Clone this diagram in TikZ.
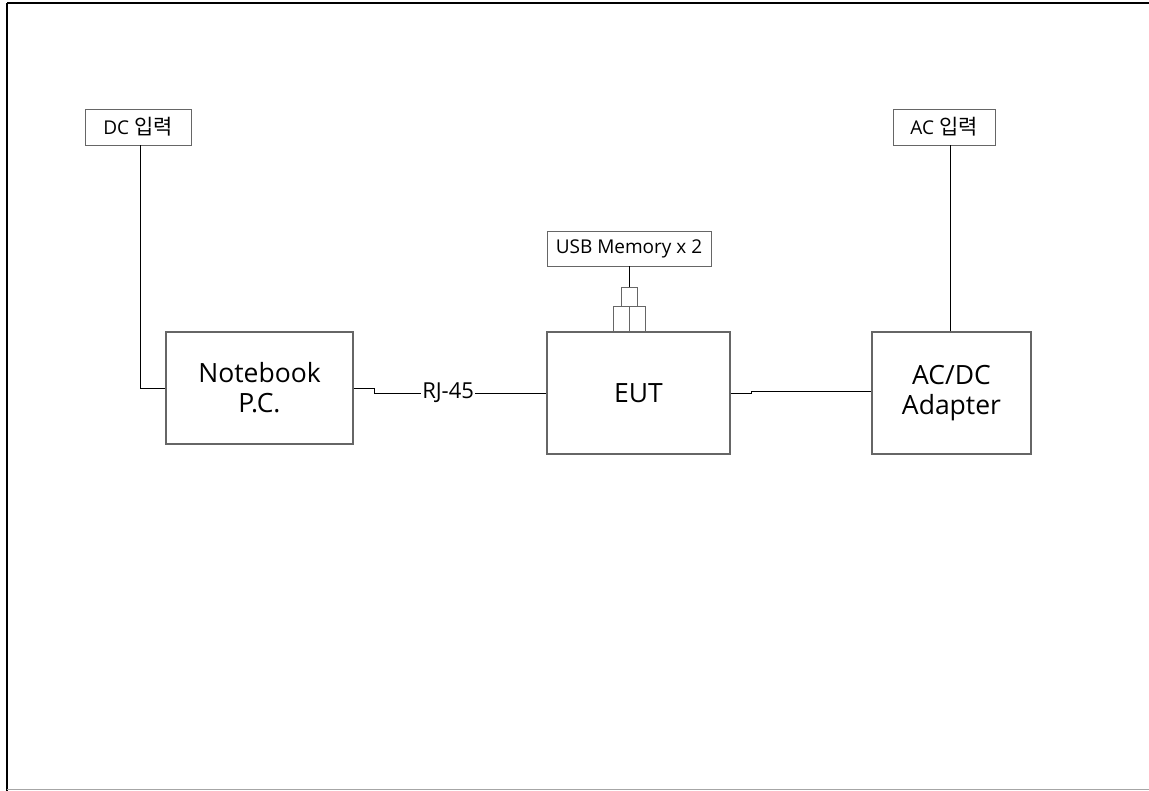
\documentclass[tikz,border=0pt]{standalone}
\usepackage{fontspec}
\setmainfont{Open Sans}
\newfontfamily\krfont[Scale=1.1]{Noto Sans CJK KR}
\usetikzlibrary{positioning}
\usetikzlibrary{calc}
\tikzstyle{line} = [draw, 
line width=0.8pt, 
color=black]

\begin{document}
\begin{tikzpicture}[x=1pt, y=-1pt, auto,
		box/.style={draw=black!60, line width=1.2pt, rectangle, fill=white,
			inner sep=0pt, align=center},
		tag/.style={box, line width=0.9pt, font=\fontsize{19}{21}\selectfont},
		unit/.style={box, font=\fontsize{26.5}{30}\selectfont},
		plug/.style={draw=black!60, line width=0.9pt, rectangle, inner sep=0pt,
			minimum width=16pt}]
		\useasboundingbox (0,0) rectangle (1149,791);
		%% Frame
		\draw [line width=1.6pt] (7,3) -- (1149,3);
		\draw [line width=1.6pt] (7,3) -- (7,791);
		\draw [line width=1pt, black!35] (7,789.5) -- (1149,789.5);
		%% Units
		\node [unit, minimum width=187pt, minimum height=112pt] at (259.5,388) (PC) {Notebook\\P.C.};
		\node [unit, minimum width=183pt, minimum height=122pt] at (638.5,393) (EUT) {EUT};
		\node [unit, minimum width=159pt, minimum height=122pt] at (951.5,393) (ADP) {AC/DC\\Adapter};
		%% Inputs
		\node [tag, minimum width=106pt, minimum height=36pt] at (138,127) (DCin) {DC {\krfont 입력}};
		\node [tag, minimum width=102pt, minimum height=36pt] at (944,127) (ACin) {AC {\krfont 입력}};
		\node [tag, minimum width=164pt, minimum height=35pt] at (629,248.5) (USB) {USB Memory x 2};
		%% USB plugs
		\node [plug, minimum height=19pt] at (629,296.5) (Plug) {};
		\node [plug, minimum height=26pt] at (621,319) (PortA) {};
		\node [plug, minimum height=26pt] at (637,319) (PortB) {};
		%% Cables
		\path [line] (DCin.south -| 140,0) |- (PC.west);
		\path [line] (ADP.north -| 950,0) -- (ACin.south -| 950,0);
		\path [line] (USB.south -| Plug.north) -- (Plug.north);
		\coordinate (rj) at (374,388);
		\path [line] (PC.east) -- (rj) -- ($(rj)+(0,5)$) -- (EUT.west)
			node [pos=0.43, anchor=center, fill=white, inner sep=1pt, font=\fontsize{22}{24}\selectfont] (RJ) {RJ-45};
		\coordinate (dc) at (751,393);
		\path [line] (EUT.east) -- (dc) -- ($(dc)+(0,-1.5)$) -- ($(dc -| ADP.west)+(0,-1.5)$);
	\end{tikzpicture}
\end{document}
